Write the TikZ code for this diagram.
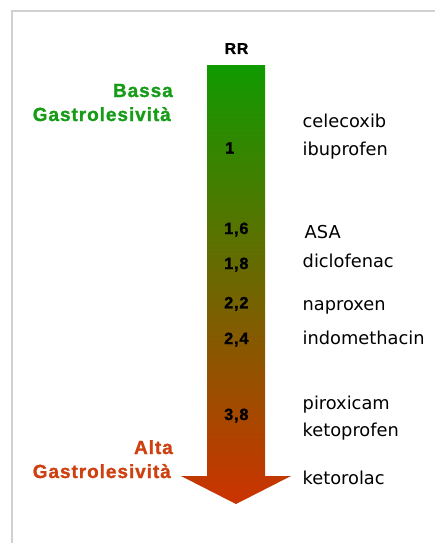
\documentclass[tikz,border=0pt]{standalone}
\usepackage{fontspec}
\newfontfamily\lbold[LetterSpace=5,FakeBold=1.2]{Liberation Sans Bold}
\newfontfamily\dvsans{DejaVu Sans}
\definecolor{lowgreen}{HTML}{169C16}
\definecolor{highred}{HTML}{CF4010}
\definecolor{arrtop}{HTML}{109A00}
\definecolor{arrmid}{HTML}{7A7200}
\definecolor{arrbot}{HTML}{CC3300}
\definecolor{framegray}{HTML}{D0D0D0}
\tikzset{
  drug/.style={anchor=base west, inner sep=0pt, font=\dvsans\fontsize{17.8}{21}\selectfont, text=black},
  rrval/.style={anchor=base west, inner sep=0pt, font=\lbold\fontsize{16.3}{19}\selectfont, text=black},
  sidelabel/.style={anchor=base east, inner sep=0pt, font=\lbold\fontsize{19}{23}\selectfont},
  framestyle/.style={draw=framegray, line width=2pt}
}
\begin{document}
\begin{tikzpicture}[x=1pt,y=-1pt]
\useasboundingbox (0,0) rectangle (434,543);
\fill[white] (0,0) rectangle (434,543);
% frame
\draw[framestyle] (12,545) -- (12,11) -- (436,11);
% arrow
\shade[top color=arrtop, middle color=arrmid, bottom color=arrbot]
  (207,65) -- (265,65) -- (265,476) -- (291,476) -- (236,504) -- (181,476) -- (207,476) -- cycle;
\node (rr) [anchor=base, inner sep=0pt, font=\lbold\fontsize{15.8}{19}\selectfont] at (236.5,54) {RR};
% side labels
\node (bassa) [sidelabel, text=lowgreen] at (173,97) {Bassa};
\node (gastro1) [sidelabel, text=lowgreen] at (171,121) {Gastrolesività};
\node (alta) [sidelabel, text=highred] at (173,454) {Alta};
\node (gastro2) [sidelabel, text=highred] at (171,478) {Gastrolesività};
% RR values
\node (v1) [rrval] at (225,153.5) {1};
\node (v16) [rrval] at (224,234) {1,6};
\node (v18) [rrval] at (224,269) {1,8};
\node (v22) [rrval] at (224,308.3) {2,2};
\node (v24) [rrval] at (224,344) {2,4};
\node (v38) [rrval] at (224,420) {3,8};
% drugs
\node (d1) [drug] at (302.5,127) {celecoxib};
\node (d2) [drug] at (302.5,155.7) {ibuprofen};
\node (d3) [drug] at (304.5,238) {ASA};
\node (d4) [drug] at (302.5,267.3) {diclofenac};
\node (d5) [drug] at (302.5,310.7) {naproxen};
\node (d6) [drug] at (302.5,344) {indomethacin};
\node (d7) [drug] at (302.5,409) {piroxicam};
\node (d8) [drug] at (302.5,436.7) {ketoprofen};
\node (d9) [drug] at (302.5,484) {ketorolac};
\end{tikzpicture}
\end{document}
